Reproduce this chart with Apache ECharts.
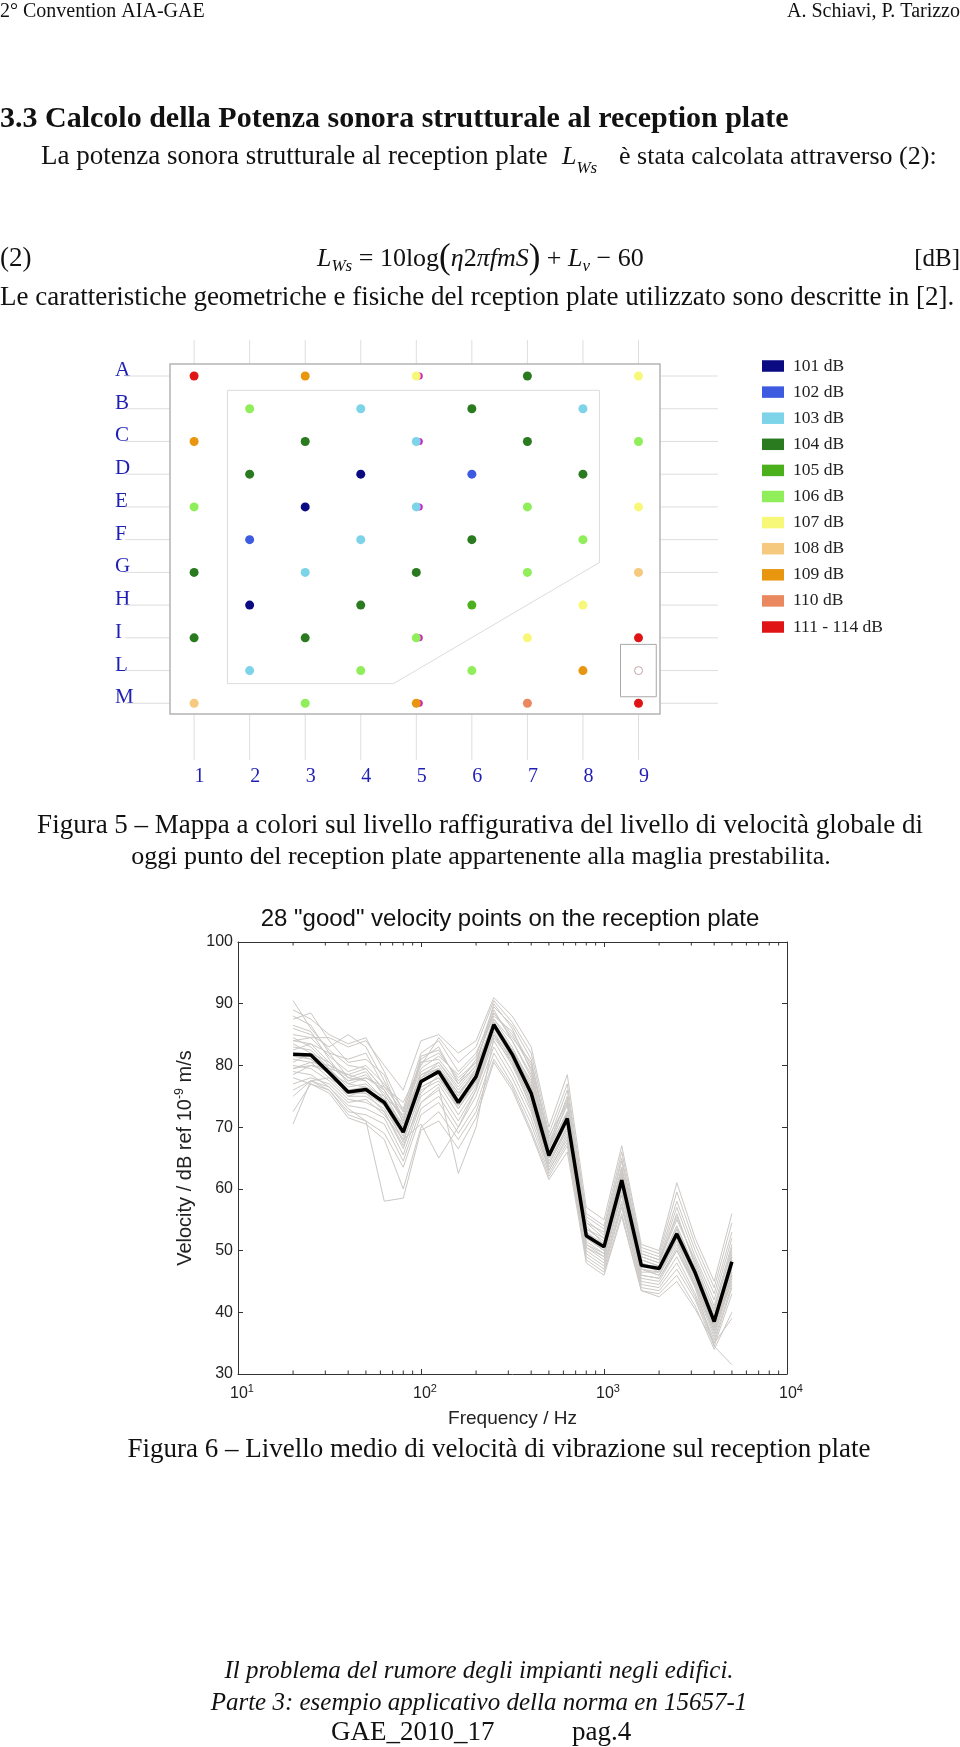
<!DOCTYPE html>
<html>
<head>
<meta charset="utf-8">
<script src="https://cdn.jsdelivr.net/npm/echarts@6/dist/echarts.min.js"></script>
<style>
html, body { margin: 0; padding: 0; background: #fff; }
#page { width: 960px; height: 1747px; }
</style>
</head>
<body>
<div id="page"></div>
<script>
// ---- Figura 5: mappa del reception plate ----
var rowLabels = ['A', 'B', 'C', 'D', 'E', 'F', 'G', 'H', 'I', 'L', 'M'];
var levelLabels = ['101 dB', '102 dB', '103 dB', '104 dB', '105 dB', '106 dB', '107 dB', '108 dB', '109 dB', '110 dB', '111 - 114 dB'];
var levelColors = ['#0a0a82', '#3d5be0', '#7dd3e8', '#2a7a1f', '#4caf1c', '#90ee5a', '#f8f878', '#f5c97e', '#e8960f', '#ea8860', '#e01414'];
// [colonna, riga (0 = A), classe di livello]
var platePoints = [
  [1, 0, 10], [3, 0, 8], [5, 0, 6], [7, 0, 3], [9, 0, 6],
  [2, 1, 5], [4, 1, 2], [6, 1, 3], [8, 1, 2],
  [1, 2, 8], [3, 2, 3], [5, 2, 2], [7, 2, 3], [9, 2, 5],
  [2, 3, 3], [4, 3, 0], [6, 3, 1], [8, 3, 3],
  [1, 4, 5], [3, 4, 0], [5, 4, 2], [7, 4, 5], [9, 4, 6],
  [2, 5, 1], [4, 5, 2], [6, 5, 3], [8, 5, 5],
  [1, 6, 3], [3, 6, 2], [5, 6, 3], [7, 6, 5], [9, 6, 7],
  [2, 7, 0], [4, 7, 3], [6, 7, 4], [8, 7, 6],
  [1, 8, 3], [3, 8, 3], [5, 8, 5], [7, 8, 6], [9, 8, 10],
  [2, 9, 2], [4, 9, 5], [6, 9, 5], [8, 9, 8],
  [1, 10, 7], [3, 10, 5], [5, 10, 8], [7, 10, 9], [9, 10, 10]
];
var secondPoints = [[5, 0], [5, 2], [5, 4], [5, 8], [5, 10]];
var emptyPoints = [[9, 9]];
var gridRows = [0, 1, 2, 3, 4, 5, 6, 7, 8, 9, 10];
var gridCols = [1, 2, 3, 4, 5, 6, 7, 8, 9];

// ---- Figura 6: velocita' sui 28 punti ----
var freqs = [20, 25, 31.5, 40, 50, 63, 80, 100, 125, 160, 200, 250, 315, 400, 500, 630, 800, 1000, 1250, 1600, 2000, 2500, 3150, 4000, 5000];
var meanLevel = [81.8, 81.7, 78.8, 75.7, 76.1, 74.0, 69.2, 77.4, 79.0, 74.0, 78.2, 86.6, 81.8, 75.5, 65.4, 71.4, 52.4, 50.6, 61.4, 47.6, 47.1, 52.7, 46.4, 38.5, 48.2];
var pointLevels = [
  [90.5, 86.0, 82.5, 80.0, 79.5, 76.0, 71.0, 80.5, 82.0, 78.0, 80.5, 89.0, 84.0, 78.0, 67.0, 73.5, 53.5, 51.5, 62.5, 48.5, 47.5, 54.0, 47.0, 39.5, 49.0],
  [89.0, 87.5, 85.0, 83.5, 84.5, 79.0, 72.5, 81.0, 83.0, 77.0, 81.0, 88.0, 85.5, 80.0, 68.5, 74.0, 55.0, 52.5, 63.5, 49.5, 48.5, 55.5, 48.0, 40.0, 50.5],
  [87.5, 88.5, 84.0, 80.5, 81.0, 78.5, 70.5, 79.0, 80.5, 76.5, 80.0, 90.0, 86.0, 79.0, 66.5, 72.5, 54.0, 51.0, 62.0, 48.0, 46.5, 53.5, 46.5, 38.0, 47.5],
  [86.0, 85.0, 83.0, 85.0, 83.0, 77.5, 71.5, 78.0, 79.5, 75.0, 79.5, 87.5, 83.0, 77.0, 66.0, 72.0, 53.0, 50.5, 61.0, 47.5, 47.0, 52.5, 46.0, 38.5, 48.0],
  [85.0, 84.5, 81.5, 79.0, 80.0, 77.0, 73.0, 82.0, 84.0, 79.0, 82.0, 88.5, 84.5, 80.5, 67.5, 74.5, 54.5, 52.0, 63.0, 49.0, 48.0, 56.0, 47.5, 39.0, 49.5],
  [84.5, 83.0, 80.0, 77.5, 78.5, 75.5, 70.0, 78.5, 80.0, 75.5, 79.0, 87.0, 82.5, 76.5, 66.0, 71.5, 52.5, 50.0, 60.5, 47.0, 46.0, 52.0, 45.5, 37.5, 47.0],
  [83.0, 82.5, 79.5, 76.5, 77.0, 74.5, 69.5, 77.5, 79.0, 74.5, 78.5, 86.5, 81.5, 75.5, 65.5, 71.0, 52.0, 50.5, 61.5, 47.5, 47.5, 52.5, 46.5, 38.5, 48.5],
  [82.0, 81.0, 78.5, 75.5, 75.5, 73.5, 68.5, 76.5, 78.0, 73.5, 77.5, 86.0, 81.0, 74.5, 65.0, 70.5, 51.5, 49.5, 60.0, 46.5, 46.5, 51.5, 45.0, 37.0, 46.5],
  [81.0, 80.5, 78.0, 76.0, 76.5, 74.0, 67.5, 76.0, 77.5, 73.0, 77.0, 85.5, 80.5, 74.0, 64.5, 70.0, 51.0, 49.0, 59.5, 46.0, 45.5, 50.5, 44.5, 36.5, 46.0],
  [80.0, 79.5, 77.5, 74.5, 74.0, 72.5, 66.5, 75.0, 77.0, 72.0, 76.5, 85.0, 80.0, 73.5, 64.0, 69.5, 50.5, 48.5, 59.0, 45.5, 45.0, 50.0, 44.0, 36.0, 45.5],
  [79.0, 78.5, 76.5, 73.5, 73.0, 71.5, 65.5, 74.0, 76.0, 71.0, 76.0, 84.0, 79.0, 72.5, 63.5, 69.0, 50.0, 48.0, 58.0, 45.0, 44.5, 49.0, 43.0, 35.5, 44.5],
  [78.0, 77.0, 76.0, 72.5, 72.0, 70.5, 64.5, 73.0, 75.0, 70.0, 75.0, 83.0, 78.0, 71.5, 63.0, 68.0, 49.5, 47.5, 57.5, 44.5, 44.0, 48.0, 42.5, 35.0, 44.0],
  [75.0, 77.5, 76.5, 73.0, 71.0, 69.0, 63.5, 72.0, 74.0, 69.0, 73.5, 82.0, 77.0, 70.5, 62.5, 67.5, 49.0, 47.0, 57.0, 44.0, 43.5, 47.0, 42.0, 34.5, 43.0],
  [72.5, 77.0, 75.5, 71.5, 70.5, 68.0, 60.0, 70.0, 72.5, 68.0, 72.5, 81.0, 76.5, 69.5, 62.0, 67.0, 48.5, 46.5, 56.0, 43.5, 43.0, 46.0, 41.0, 34.0, 40.0],
  [70.5, 77.5, 76.0, 72.0, 71.0, 58.0, 58.5, 69.5, 71.0, 66.5, 71.5, 80.5, 76.0, 69.0, 61.5, 66.0, 48.0, 46.0, 55.5, 43.5, 42.5, 45.0, 40.5, 35.0, 39.0],
  [84.0, 84.5, 84.5, 83.0, 84.0, 80.0, 76.0, 84.0, 85.0, 82.0, 84.0, 91.0, 88.0, 83.0, 70.0, 78.5, 57.0, 55.0, 67.0, 51.0, 50.0, 61.0, 52.0, 45.0, 56.0],
  [82.5, 83.5, 82.0, 81.0, 82.0, 76.5, 74.0, 80.0, 84.5, 80.5, 83.0, 90.5, 87.0, 82.0, 69.0, 77.0, 56.0, 54.0, 66.0, 50.5, 49.5, 59.5, 51.0, 44.0, 54.5],
  [80.5, 82.0, 80.5, 78.0, 79.0, 75.0, 72.0, 79.5, 81.5, 78.5, 81.5, 89.5, 86.5, 81.0, 68.0, 76.0, 55.5, 53.5, 65.0, 50.0, 49.0, 58.0, 50.0, 43.0, 53.0],
  [79.5, 80.0, 79.0, 77.0, 78.0, 76.0, 71.0, 81.5, 82.5, 77.5, 80.5, 88.5, 85.0, 79.5, 67.0, 75.0, 54.5, 53.0, 64.5, 49.5, 48.5, 57.0, 49.0, 42.0, 52.0],
  [78.5, 80.0, 79.5, 78.5, 77.5, 74.5, 70.5, 78.0, 80.5, 76.0, 79.5, 87.5, 84.0, 78.5, 66.5, 74.0, 53.5, 52.0, 63.5, 49.0, 48.0, 55.0, 48.5, 41.0, 51.0],
  [77.0, 78.0, 77.0, 74.0, 74.5, 72.0, 68.0, 75.5, 78.5, 73.0, 77.5, 86.0, 82.0, 76.0, 65.0, 72.5, 52.5, 51.0, 62.0, 48.5, 47.5, 54.0, 47.0, 40.5, 50.0],
  [81.5, 81.0, 79.0, 75.0, 75.0, 73.0, 68.0, 70.5, 65.0, 70.0, 76.0, 85.0, 81.0, 74.0, 64.0, 70.0, 51.0, 49.5, 60.5, 47.0, 46.0, 51.0, 45.0, 37.5, 46.0],
  [83.5, 82.0, 79.5, 76.0, 75.5, 72.5, 67.0, 74.0, 76.5, 62.5, 70.0, 84.5, 80.5, 73.0, 63.0, 68.5, 50.5, 49.0, 59.0, 46.0, 45.5, 50.0, 44.5, 37.0, 45.0],
  [86.5, 85.5, 81.0, 77.0, 76.5, 75.0, 69.0, 77.0, 79.5, 74.5, 78.5, 86.5, 82.0, 75.0, 65.0, 71.0, 52.0, 50.0, 61.0, 47.0, 46.5, 52.0, 44.0, 34.5, 31.5],
  [84.0, 83.5, 80.5, 77.5, 78.0, 76.5, 72.5, 80.5, 81.0, 77.0, 80.0, 87.0, 82.5, 77.5, 66.5, 72.5, 53.0, 51.0, 62.5, 48.0, 47.0, 53.0, 46.0, 39.0, 47.5],
  [76.0, 77.5, 78.0, 75.0, 76.0, 73.5, 69.0, 76.5, 78.0, 73.5, 78.0, 86.0, 81.5, 75.0, 65.5, 71.0, 52.0, 50.0, 61.0, 47.5, 47.0, 52.5, 46.0, 38.0, 48.0],
  [79.5, 80.5, 80.0, 78.5, 79.5, 76.0, 71.5, 78.5, 79.5, 75.5, 79.0, 86.5, 82.0, 76.0, 65.5, 72.0, 52.5, 50.5, 61.5, 47.5, 47.0, 53.0, 46.5, 38.5, 48.5],
  [88.0, 86.5, 82.0, 78.0, 77.5, 74.5, 70.0, 78.0, 79.5, 75.0, 79.0, 87.0, 82.5, 76.5, 65.5, 72.0, 52.5, 50.5, 61.5, 48.0, 47.0, 53.5, 46.5, 39.0, 49.0]
];
var minorTickFreqs = [20, 30, 40, 50, 60, 70, 80, 90, 200, 300, 400, 500, 600, 700, 800, 900, 2000, 3000, 4000, 5000, 6000, 7000, 8000, 9000];

var serif = "'Liberation Serif', 'Times New Roman', serif";
var sans = "'Liberation Sans', Arial, sans-serif";
var mapBlue = '#1f1fb4';

function txt(x, y, text, size, opts) {
  opts = opts || {};
  return {
    type: 'text', x: x, y: y, silent: true,
    style: {
      text: text,
      fontSize: size,
      fontFamily: opts.family || serif,
      fontWeight: opts.weight || 'normal',
      fontStyle: opts.style || 'normal',
      fill: opts.color || '#111',
      align: opts.align || 'left', textAlign: opts.align || 'left',
      verticalAlign: 'middle', textVerticalAlign: 'middle',
      rich: opts.rich
    }
  };
}

var mathRich = {
  n: { fontSize: 26, fontFamily: serif },
  L: { fontSize: 26, fontFamily: serif, fontStyle: 'italic' },
  e: { fontSize: 26, fontFamily: serif, fontStyle: 'italic' },
  s: { fontSize: 17, fontFamily: serif, fontStyle: 'italic', padding: [16, 0, 0, 0] },
  sb: { fontSize: 17, fontFamily: serif, fontStyle: 'italic', padding: [24, 0, 0, 0] },
  p: { fontSize: 35, fontFamily: serif }
};

var graphics = [
  txt(0, 12, '2° Convention AIA-GAE', 20),
  txt(960, 12, 'A. Schiavi, P. Tarizzo', 20, { align: 'right' }),
  txt(0, 119, '3.3 Calcolo della Potenza sonora strutturale al reception plate', 30, { weight: 'bold' }),
  txt(41, 157, 'La potenza sonora strutturale al reception plate', 27),
  txt(562, 157, '{L|L}{sb|Ws}', 27, { rich: mathRich }),
  txt(619, 157, 'è stata calcolata attraverso (2):', 26),
  txt(0, 259, '(2)', 27),
  txt(317, 259, '{L|L}{s|Ws}{n| = 10log}{p|(}{e|η}{n|2}{e|πfmS}{p|)}{n| + }{L|L}{s|v}{n| − 60}', 26, { rich: mathRich }),
  txt(960, 259, '[dB]', 25, { align: 'right' }),
  txt(0, 298, 'Le caratteristiche geometriche e fisiche del rception plate utilizzato sono descritte in [2].', 27),
  txt(480, 826, 'Figura 5 – Mappa a colori sul livello raffigurativa del livello di velocità globale di', 27, { align: 'center' }),
  txt(481, 857, 'oggi punto del reception plate appartenente alla maglia prestabilita.', 26, { align: 'center' }),
  txt(510, 919, '28 "good" velocity points on the reception plate', 24, { family: sans, color: '#111', align: 'center' }),
  txt(499, 1450, 'Figura 6 – Livello medio di velocità di vibrazione sul reception plate', 27, { align: 'center' }),
  txt(479, 1671, 'Il problema del rumore degli impianti negli edifici.', 25, { align: 'center', style: 'italic' }),
  txt(479, 1703, 'Parte 3: esempio applicativo della norma en 15657-1', 25, { align: 'center', style: 'italic' }),
  txt(331, 1733, 'GAE_2010_17', 27),
  txt(572, 1733, 'pag.4', 27)
];

var series = [];

// background grid lines of the map
series.push({
  type: 'custom', xAxisIndex: 0, yAxisIndex: 0, z: 1, silent: true,
  data: gridRows.map(function (r) { return [0, r]; }),
  renderItem: function (params, api) {
    var a = api.coord([-0.24, api.value(1)]);
    var b = api.coord([10.43, api.value(1)]);
    return { type: 'line', shape: { x1: a[0], y1: a[1], x2: b[0], y2: b[1] }, style: { stroke: '#dedede', lineWidth: 1 } };
  }
});
series.push({
  type: 'custom', xAxisIndex: 0, yAxisIndex: 0, z: 1, silent: true,
  data: gridCols.map(function (c) { return [c, 0]; }),
  renderItem: function (params, api) {
    var a = api.coord([api.value(0), -1.1]);
    var b = api.coord([api.value(0), 11.73]);
    return { type: 'line', shape: { x1: a[0], y1: a[1], x2: b[0], y2: b[1] }, style: { stroke: '#dedede', lineWidth: 1 } };
  }
});
// plate outline, inner area and sensor box
series.push({
  type: 'custom', xAxisIndex: 0, yAxisIndex: 0, z: 2, silent: true,
  data: [[0, 0]],
  renderItem: function (params, api) {
    function pts(list) { return list.map(function (p) { return api.coord(p); }); }
    return {
      type: 'group',
      children: [
        { type: 'polygon', shape: { points: pts([[0.566, -0.367], [9.387, -0.367], [9.387, 10.33], [0.566, 10.33]]) },
          style: { fill: '#fff', stroke: '#b4b4b4', lineWidth: 1.5 } },
        { type: 'polygon', shape: { points: pts([[1.6, 0.437], [8.296, 0.437], [8.296, 5.70], [4.59, 9.40], [1.6, 9.40]]) },
          style: { fill: 'none', stroke: '#dcdcdc', lineWidth: 1 } },
        { type: 'polygon', shape: { points: pts([[8.676, 8.2], [9.32, 8.2], [9.32, 9.8], [8.676, 9.8]]) },
          style: { fill: 'none', stroke: '#a8a8a8', lineWidth: 1 } }
      ]
    };
  }
});
series.push({
  type: 'scatter', name: 'second', xAxisIndex: 0, yAxisIndex: 0, z: 3, silent: true,
  symbolSize: 7, symbolOffset: [3, 0], itemStyle: { color: '#d020c8', opacity: 1 },
  data: secondPoints
});
levelLabels.forEach(function (name, k) {
  series.push({
    type: 'scatter', name: name, xAxisIndex: 0, yAxisIndex: 0, z: 4, silent: true,
    symbolSize: 9, itemStyle: { color: levelColors[k], opacity: 1 },
    data: platePoints.filter(function (p) { return p[2] === k; }).map(function (p) { return [p[0], p[1]]; })
  });
});
series.push({
  type: 'scatter', name: 'empty', xAxisIndex: 0, yAxisIndex: 0, z: 4, silent: true,
  symbolSize: 8, itemStyle: { color: '#fff', borderColor: '#c4a4a4', borderWidth: 1, opacity: 1 },
  data: emptyPoints
});

// velocity curves
pointLevels.forEach(function (arr, i) {
  series.push({
    type: 'line', name: 'p' + (i + 1), xAxisIndex: 1, yAxisIndex: 1, z: 3, silent: true,
    symbol: 'none', lineStyle: { color: '#cbc8c5', width: 1 },
    data: freqs.map(function (f, j) { return [f, arr[j]]; })
  });
});
series.push({
  type: 'line', name: 'media', xAxisIndex: 1, yAxisIndex: 1, z: 5, silent: true,
  symbol: 'none', lineStyle: { color: '#000', width: 3.5 },
  data: freqs.map(function (f, j) { return [f, meanLevel[j]]; })
});
// minor ticks of the log axis (bottom and top)
series.push({
  type: 'custom', xAxisIndex: 1, yAxisIndex: 1, z: 6, silent: true, clip: false,
  data: minorTickFreqs.map(function (f) { return [f, 30]; }),
  renderItem: function (params, api) {
    var b = api.coord([api.value(0), 30]);
    var t = api.coord([api.value(0), 100]);
    return {
      type: 'group',
      children: [
        { type: 'line', shape: { x1: b[0], y1: b[1], x2: b[0], y2: b[1] - 3.5 }, style: { stroke: '#333', lineWidth: 1 } },
        { type: 'line', shape: { x1: t[0], y1: t[1], x2: t[0], y2: t[1] + 3.5 }, style: { stroke: '#333', lineWidth: 1 } }
      ]
    };
  }
});

var supRich = { sup: { fontSize: 11, fontFamily: sans, color: '#222', padding: [0, 0, 11, 0] } };

var option = {
  animation: false,
  backgroundColor: '#fff',
  textStyle: { fontFamily: sans },
  graphic: { elements: graphics },
  legend: {
    data: levelLabels, orient: 'vertical', left: 762, top: 357, padding: 0,
    icon: 'rect', itemWidth: 22, itemHeight: 11.5, itemGap: 8.1, selectedMode: false,
    textStyle: { fontFamily: serif, fontSize: 17.5, lineHeight: 17.5, color: '#222', padding: [0, 0, 0, 4] }
  },
  grid: [
    { left: 194.1, top: 376, width: 444.4, height: 327.3 },
    { left: 238, top: 942, width: 549, height: 432 }
  ],
  xAxis: [
    { gridIndex: 0, type: 'value', min: 1, max: 9, interval: 1,
      axisLine: { show: false }, axisTick: { show: false }, splitLine: { show: false },
      axisLabel: { margin: 63, fontFamily: serif, fontSize: 20, color: mapBlue, padding: [0, 0, 0, 11] } },
    { gridIndex: 1, type: 'log', logBase: 10, min: 10, max: 10000,
      axisLine: { lineStyle: { color: '#333', width: 1 } },
      axisTick: { inside: true, length: 5, lineStyle: { color: '#333' } },
      splitLine: { show: false },
      axisLabel: { margin: 9, fontSize: 16, color: '#222', padding: [0, 0, 0, 8], rich: supRich,
        formatter: function (v) { return '10{sup|' + Math.round(Math.log10(v)) + '}'; } },
      name: 'Frequency / Hz', nameLocation: 'middle', nameGap: 35,
      nameTextStyle: { fontSize: 19, color: '#222' } },
    { gridIndex: 1, type: 'log', logBase: 10, min: 10, max: 10000, position: 'top',
      axisLine: { lineStyle: { color: '#333', width: 1 } },
      axisTick: { inside: true, length: 5, lineStyle: { color: '#333' } },
      splitLine: { show: false }, axisLabel: { show: false } }
  ],
  yAxis: [
    { gridIndex: 0, type: 'value', min: 0, max: 10, interval: 1, inverse: true,
      axisLine: { show: false }, axisTick: { show: false }, splitLine: { show: false },
      axisLabel: { margin: 79, align: 'left', color: mapBlue,
        rich: { r: { fontFamily: serif, fontSize: 21, color: mapBlue, padding: [0, 0, 11, 0] } },
        formatter: function (v) { return rowLabels[v] ? '{r|' + rowLabels[v] + '}' : ''; } } },
    { gridIndex: 1, type: 'value', min: 30, max: 100, interval: 10,
      axisLine: { lineStyle: { color: '#333', width: 1 } },
      axisTick: { inside: true, length: 5, lineStyle: { color: '#333' } },
      splitLine: { show: false },
      axisLabel: { margin: 5, fontSize: 16, color: '#222' },
      name: 'Velocity / dB ref 10{sup|-9} m/s', nameLocation: 'middle', nameRotate: 90, nameGap: 34,
      nameTextStyle: { fontSize: 20, color: '#222', rich: { sup: { fontSize: 12.5, fontFamily: sans, color: '#222', padding: [0, 0, 12, 0] } } } },
    { gridIndex: 1, type: 'value', min: 30, max: 100, interval: 10, position: 'right',
      axisLine: { lineStyle: { color: '#333', width: 1 } },
      axisTick: { inside: true, length: 5, lineStyle: { color: '#333' } },
      splitLine: { show: false }, axisLabel: { show: false } }
  ],
  series: series
};

var chart = echarts.init(document.getElementById('page'));
chart.setOption(option);
</script>
</body>
</html>
